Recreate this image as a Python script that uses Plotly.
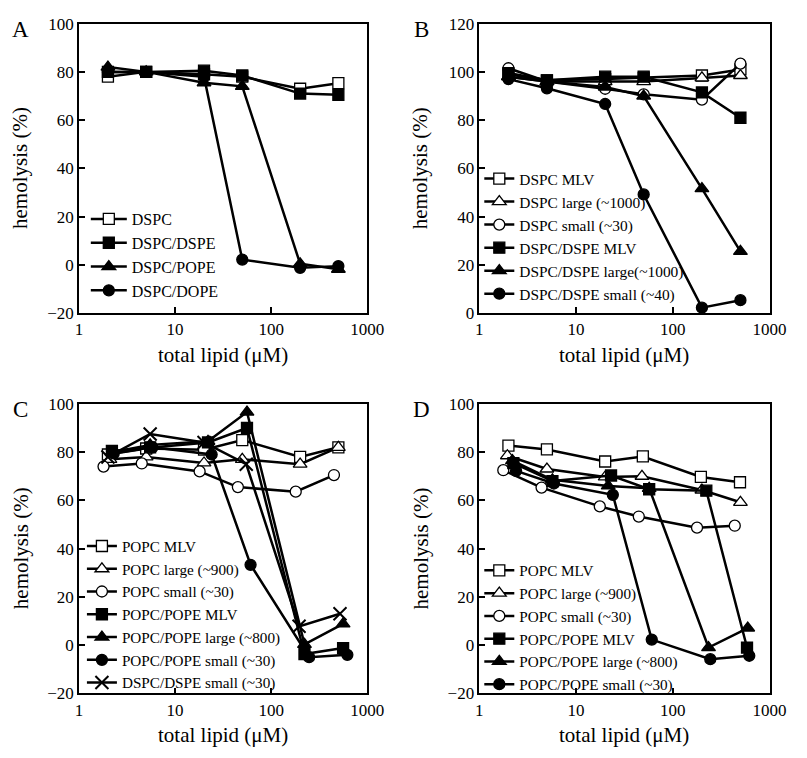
import plotly.graph_objects as go

W, H = 807, 758
FONT = "Liberation Serif"

# ---------------- data ----------------
# Panel A
xA = [2, 5, 20, 50, 200, 500]
A_names = ["DSPC", "DSPC/DSPE", "DSPC/POPE", "DSPC/DOPE"]
A_dspc = [78, 80, 79, 78, 73, 75.3]
A_dspc_dspe = [80, 80, 80.5, 78.5, 71, 70.5]
A_dspc_pope = [82, 80, 75.5, 74, 0.5, -1.8]
A_dspc_dope = [80, 80, 78, 2.2, -1.2, -0.5]

# Panel B
xB = [2, 5, 20, 50, 200, 500]
B_names = ["DSPC MLV", "DSPC large (~1000)", "DSPC small (~30)",
           "DSPC/DSPE MLV", "DSPC/DSPE large(~1000)", "DSPC/DSPE small (~40)"]
B_dspc_mlv = [99, 96.5, 97, 97.5, 98.5, 101]
B_dspc_large = [98, 96, 96, 96, 97.5, 98.5]
B_dspc_small = [101.5, 96, 93, 90.7, 88.5, 103.4]
B_dd_mlv = [99.5, 96.5, 98, 98, 91.5, 81]
B_dd_large = [98, 96, 93.7, 90, 51.6, 25.6]
B_dd_small = [97, 93.2, 86.7, 49.2, 2.3, 5.4]

# Panel C
C_names = ["POPC MLV", "POPC large (~900)", "POPC small (~30)",
           "POPC/POPE MLV", "POPC/POPE large (~800)", "POPC/POPE small (~30)",
           "DSPC/DSPE small (~30)"]
C_x_popc_mlv = [2, 5, 20, 50, 200, 500]
C_popc_mlv = [79, 81.5, 81, 85, 78, 82]
C_x_popc_large = [2.1, 5, 20, 50, 200, 500]
C_popc_large = [77, 78, 75.5, 77, 75, 82]
C_x_popc_small = [1.8, 4.5, 18, 45, 180, 450]
C_popc_small = [74, 75.3, 72, 65.5, 63.6, 70.5]
C_x_pp_mlv = [2.2, 5.5, 22, 56, 222, 560]
C_pp_mlv = [80.5, 82, 84, 90, -3.7, -1.2]
C_x_pp_large = [2.2, 5.5, 22, 56, 222, 560]
C_pp_large = [80, 83, 84.5, 96.6, 0.3, 8.8]
C_x_pp_small = [2.3, 5.8, 24, 61, 248, 620]
C_pp_small = [79.5, 82, 79, 33.3, -5, -4]
C_x_dd_small = [2, 5.5, 20, 55, 195, 520]
C_dd_small = [78, 87.5, 84, 75, 7.8, 13]

# Panel D
D_names = ["POPC MLV", "POPC large (~900)", "POPC small (~30)",
           "POPC/POPE MLV", "POPC/POPE large (~800)", "POPC/POPE small (~30)"]
D_x_popc_mlv = [2, 5, 20, 49, 195, 495]
D_popc_mlv = [82.7, 81.1, 76.1, 78.2, 69.7, 67.5]
D_x_popc_large = [1.95, 5, 20, 48, 200, 500]
D_popc_large = [78.5, 73, 69.7, 70, 64.3, 59.2]
D_x_popc_small = [1.77, 4.4, 17.6, 44.5, 178, 437]
D_popc_small = [72.5, 65.3, 57.5, 53.3, 48.7, 49.5]
D_x_pp_mlv = [2.25, 5.7, 23, 57, 222, 585]
D_pp_mlv = [75.4, 68, 70.3, 64.6, 64, -1]
D_x_pp_large = [2.2, 5.7, 21.5, 57, 234, 595]
D_pp_large = [76.5, 68.5, 66, 65, -1, 7.1]
D_x_pp_small = [2.4, 5.9, 24, 60.6, 244, 617]
D_pp_small = [72.2, 67, 62.3, 2.3, -5.8, -4.4]

# ---------------- layout geometry (px) ----------------
def px(x):
    return x / W

def py(y):
    return 1 - y / H

panels = {
    # name: (left, right, top, bottom)
    "A": (77, 373, 15, 312),
    "B": (488, 786, 15, 312),
    "C": (77, 373, 405, 702),
    "D": (488, 786, 405, 702),
}

fig = go.Figure()

SYM = {
    "osq": ("square", "white"), "fsq": ("square", "black"),
    "otr": ("triangle-up", "white"), "ftr": ("triangle-up", "black"),
    "oci": ("circle", "white"), "fci": ("circle", "black"),
    "x": ("x-thin", "black"),
}


def add(x, y, name, kind, ax, legend):
    sym, fill = SYM[kind]
    size = {"square": 11, "triangle-up": 12, "circle": 11, "x-thin": 13}[sym]
    lw = 2 if sym == "x-thin" else 1.3
    fig.add_trace(go.Scatter(
        x=x, y=y, name=name, mode="lines+markers",
        line=dict(color="black", width=2.5),
        marker=dict(symbol=sym, size=size, color=fill,
                    line=dict(color="black", width=lw)),
        xaxis="x" + ax, yaxis="y" + ax, legend=legend,
    ))


# A
add(xA, A_dspc, A_names[0], "osq", "", "legend")
add(xA, A_dspc_dspe, A_names[1], "fsq", "", "legend")
add(xA, A_dspc_pope, A_names[2], "ftr", "", "legend")
add(xA, A_dspc_dope, A_names[3], "fci", "", "legend")
# B
add(xB, B_dspc_mlv, B_names[0], "osq", "2", "legend2")
add(xB, B_dspc_large, B_names[1], "otr", "2", "legend2")
add(xB, B_dspc_small, B_names[2], "oci", "2", "legend2")
add(xB, B_dd_mlv, B_names[3], "fsq", "2", "legend2")
add(xB, B_dd_large, B_names[4], "ftr", "2", "legend2")
add(xB, B_dd_small, B_names[5], "fci", "2", "legend2")
# C
add(C_x_popc_mlv, C_popc_mlv, C_names[0], "osq", "3", "legend3")
add(C_x_popc_large, C_popc_large, C_names[1], "otr", "3", "legend3")
add(C_x_popc_small, C_popc_small, C_names[2], "oci", "3", "legend3")
add(C_x_pp_mlv, C_pp_mlv, C_names[3], "fsq", "3", "legend3")
add(C_x_pp_large, C_pp_large, C_names[4], "ftr", "3", "legend3")
add(C_x_pp_small, C_pp_small, C_names[5], "fci", "3", "legend3")
add(C_x_dd_small, C_dd_small, C_names[6], "x", "3", "legend3")
# D
add(D_x_popc_mlv, D_popc_mlv, D_names[0], "osq", "4", "legend4")
add(D_x_popc_large, D_popc_large, D_names[1], "otr", "4", "legend4")
add(D_x_popc_small, D_popc_small, D_names[2], "oci", "4", "legend4")
add(D_x_pp_mlv, D_pp_mlv, D_names[3], "fsq", "4", "legend4")
add(D_x_pp_large, D_pp_large, D_names[4], "ftr", "4", "legend4")
add(D_x_pp_small, D_pp_small, D_names[5], "fci", "4", "legend4")

tickfont = dict(family=FONT, size=17, color="black")
axis_common = dict(showline=True, linecolor="black", linewidth=1.5, mirror=True,
                   ticks="inside", ticklen=6, tickwidth=1.5, tickcolor="black",
                   showgrid=False, zeroline=False, tickfont=tickfont)

yranges = {"A": [-20, 100], "B": [0, 120], "C": [-20, 100], "D": [-20, 100]}
suffix = {"A": "", "B": "2", "C": "3", "D": "4"}
layout = {}
for k, (l, r, t, b) in panels.items():
    s = suffix[k]
    layout["xaxis" + s] = dict(type="log", range=[0, 3], domain=[px(l), px(r)],
                               anchor="y" + s, tickvals=[1, 10, 100, 1000],
                               ticktext=["1", "10", "100", "1000"], **axis_common)
    layout["yaxis" + s] = dict(range=yranges[k], domain=[py(b), py(t)],
                               anchor="x" + s, dtick=20, tick0=0, **axis_common)


def leg(x, y, w, fs):
    return dict(x=px(x), y=py(y), xanchor="left", yanchor="top",
                font=dict(family=FONT, size=fs, color="black"),
                bgcolor="rgba(0,0,0,0)", borderwidth=0, itemwidth=w,
                tracegroupgap=0)


layout["legend"] = leg(84, 198, 36, 16)
layout["legend2"] = leg(488, 157, 30, 15.4)
layout["legend3"] = leg(80, 534, 30, 15.2)
layout["legend4"] = leg(488, 559, 30, 15.2)

annotations = []
for k, (l, r, t, b) in panels.items():
    lx = 17 if l < 400 else 429
    annotations.append(dict(text=k, x=px(lx), y=py(t + 6), xref="paper", yref="paper",
                            xanchor="center", yanchor="middle", showarrow=False,
                            font=dict(family=FONT, size=23, color="black")))
    annotations.append(dict(text="hemolysis (%)", textangle=-90, x=px(l - 60),
                            y=py((t + b) / 2), xref="paper", yref="paper",
                            xanchor="center", yanchor="middle", showarrow=False,
                            font=dict(family=FONT, size=21, color="black")))
    annotations.append(dict(text="total lipid (μM)", x=px((l + r) / 2), y=py(b + 43),
                            xref="paper", yref="paper", xanchor="center",
                            yanchor="middle", showarrow=False,
                            font=dict(family=FONT, size=21, color="black")))

fig.update_layout(width=W, height=H, margin=dict(l=0, r=0, t=0, b=0),
                  paper_bgcolor="white", plot_bgcolor="white",
                  annotations=annotations, showlegend=True, **layout)

fig.write_html("out.html")
